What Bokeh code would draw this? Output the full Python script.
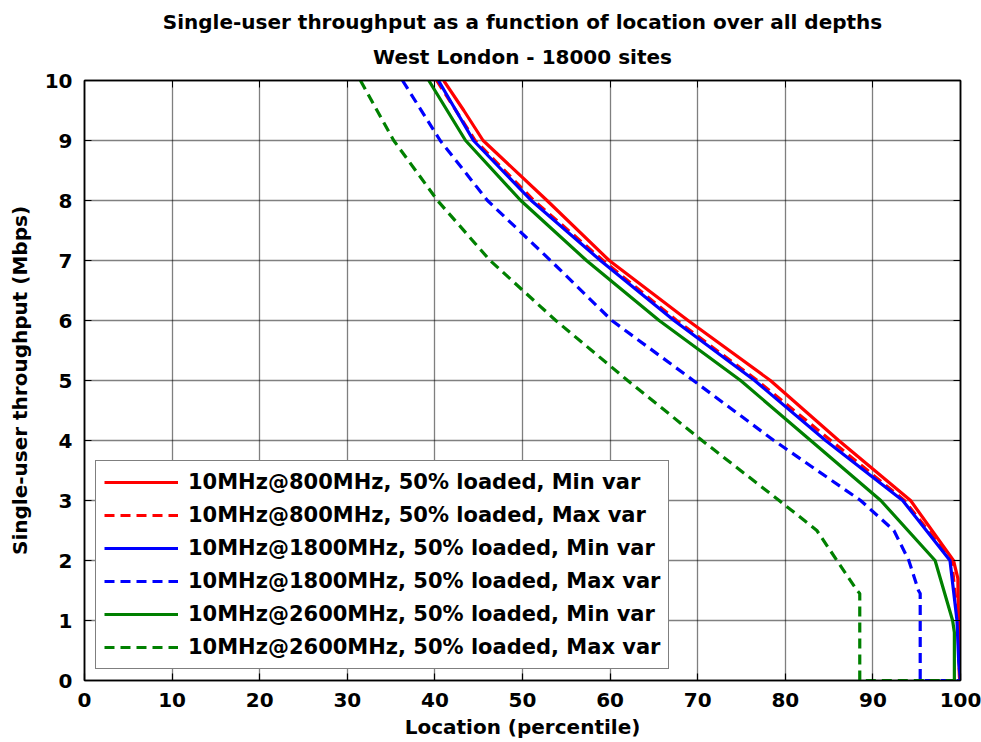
from bokeh.plotting import figure
from bokeh.models import Title, LinearAxis, Legend, LegendItem, FixedTicker, Range1d
from bokeh.embed import file_html
from bokeh.resources import INLINE

# ---- data ----
x_800_min = [41.0, 43.3, 45.5, 52.8, 59.9, 68.9, 78.3, 86.1, 94.3, 99.2, 99.7, 99.8, 99.9]
y_800_min = [10.0, 9.5, 9.0, 8.0, 7.0, 6.0, 5.0, 4.0, 3.0, 2.0, 1.7, 0.5, 0.0]

x_800_max = [40.2, 44.6, 51.3, 59.2, 67.6, 76.8, 85.2, 93.6, 99.0, 99.7, 99.9]
y_800_max = [10.0, 9.0, 8.0, 7.0, 6.0, 5.0, 4.0, 3.0, 2.0, 1.0, 0.0]

x_1800_min = [40.4, 44.4, 51.0, 58.9, 67.3, 76.5, 84.6, 93.4, 98.8, 99.6, 99.8, 100.0]
y_1800_min = [10.0, 9.0, 8.0, 7.0, 6.0, 5.0, 4.0, 3.0, 2.0, 1.0, 0.3, 0.0]

x_1800_max = [36.3, 40.6, 46.0, 53.2, 60.2, 69.5, 78.7, 88.6, 92.4, 94.1, 95.2, 95.4, 95.4, 100.0]
y_1800_max = [10.0, 9.0, 8.0, 7.0, 6.0, 5.0, 4.0, 3.0, 2.5, 2.0, 1.5, 1.45, 0.0, 0.0]

x_2600_min = [39.3, 43.5, 49.8, 57.3, 65.6, 74.9, 82.9, 90.9, 97.1, 99.1, 99.3, 99.3]
y_2600_min = [10.0, 9.0, 8.0, 7.0, 6.0, 5.0, 4.0, 3.0, 2.0, 1.0, 0.8, 0.0]

x_2600_max = [31.5, 35.3, 40.3, 46.3, 53.8, 62.0, 70.5, 79.3, 83.6, 85.9, 88.2, 88.5, 88.5, 100.0]
y_2600_max = [10.0, 9.0, 8.0, 7.0, 6.0, 5.0, 4.0, 3.0, 2.5, 2.0, 1.5, 1.45, 0.0, 0.0]

series_labels = [
    "10MHz@800MHz, 50% loaded, Min var",
    "10MHz@800MHz, 50% loaded, Max var",
    "10MHz@1800MHz, 50% loaded, Min var",
    "10MHz@1800MHz, 50% loaded, Max var",
    "10MHz@2600MHz, 50% loaded, Min var",
    "10MHz@2600MHz, 50% loaded, Max var",
]
x_ticks = [0, 10, 20, 30, 40, 50, 60, 70, 80, 90, 100]
y_ticks = [0, 1, 2, 3, 4, 5, 6, 7, 8, 9, 10]

title_1 = "Single-user throughput as a function of location over all depths"
title_2 = "West London - 18000 sites"

FONT = "DejaVu Sans"

p = figure(
    frame_width=876, frame_height=600,
    x_range=Range1d(0, 100), y_range=Range1d(0, 10),
    output_backend="svg", toolbar_location=None,
    min_border_left=84, min_border_right=21, min_border_top=80, min_border_bottom=62,
    background_fill_color="white", border_fill_color="white",
)
p.title = None

bottom_ax = p.below[0]
left_ax = p.left[0]

# box ticks on top and right (closest to the frame)
top_ax = LinearAxis(ticker=FixedTicker(ticks=x_ticks), major_label_text_font_size="0px",
                    major_label_standoff=0, major_tick_in=7, major_tick_out=0,
                    minor_tick_in=0, minor_tick_out=0, axis_line_width=1.5)
right_ax = LinearAxis(ticker=FixedTicker(ticks=y_ticks), major_label_text_font_size="0px",
                      major_label_standoff=0, major_tick_in=7, major_tick_out=0,
                      minor_tick_in=0, minor_tick_out=0, axis_line_width=1.5)
p.add_layout(top_ax, "above")
p.add_layout(right_ax, "right")

# titles (later added = farther from the plot)
t2 = Title(text=title_2, align="center", text_font=FONT, text_font_size="20px",
           text_font_style="bold", text_color="black", text_line_height=0.8, standoff=23)
t1 = Title(text=title_1, align="center", text_font=FONT, text_font_size="20px",
           text_font_style="bold", text_color="black", text_line_height=0.8, standoff=-4)
p.add_layout(t2, "above")
p.add_layout(t1, "above")

for ax in (bottom_ax, left_ax):
    ax.major_label_text_font = FONT
    ax.major_label_text_font_size = "20px"
    ax.major_label_text_font_style = "bold"
    ax.major_label_text_color = "black"
    ax.axis_label_text_font = FONT
    ax.axis_label_text_font_size = "20px"
    ax.axis_label_text_font_style = "bold"
    ax.axis_label_text_color = "black"
    ax.major_tick_in = 7
    ax.major_tick_out = 0
    ax.minor_tick_in = 0
    ax.minor_tick_out = 0
    ax.axis_line_color = "black"
    ax.axis_line_width = 1.5
    ax.major_tick_line_width = 1.2

bottom_ax.ticker = FixedTicker(ticks=x_ticks)
left_ax.ticker = FixedTicker(ticks=y_ticks)
bottom_ax.axis_label = "Location (percentile)"
left_ax.axis_label = "Single-user throughput (Mbps)"
bottom_ax.major_label_standoff = 12
left_ax.major_label_standoff = 12
bottom_ax.axis_label_standoff = 5
left_ax.axis_label_standoff = 10

p.outline_line_color = "black"
p.outline_line_width = 1.5

p.xgrid[0].ticker = FixedTicker(ticks=x_ticks)
p.ygrid[0].ticker = FixedTicker(ticks=y_ticks)
for g in (p.xgrid[0], p.ygrid[0]):
    g.grid_line_color = "black"
    g.grid_line_dash = "1 1"
    g.grid_line_width = 1.3
    g.grid_line_alpha = 1.0

RED, BLUE, GREEN = "#ff0000", "#0000ff", "#008000"
DASH = "10 6"
LW = 3.2

series = [
    (x_800_min, y_800_min, RED, "solid"),
    (x_800_max, y_800_max, RED, DASH),
    (x_1800_min, y_1800_min, BLUE, "solid"),
    (x_1800_max, y_1800_max, BLUE, DASH),
    (x_2600_min, y_2600_min, GREEN, "solid"),
    (x_2600_max, y_2600_max, GREEN, DASH),
]
renderers = []
for xs, ys, c, dash in series:
    r = p.line(xs, ys, line_color=c, line_width=LW, line_dash=dash)
    renderers.append(r)

items = [LegendItem(label=lab, renderers=[r]) for lab, r in zip(series_labels, renderers)]
legend = Legend(items=items, location="bottom_left",
                label_text_font=FONT, label_text_font_size="21px",
                label_text_font_style="bold", label_text_color="black",
                glyph_width=74, glyph_height=26, label_height=26, spacing=7,
                padding=8, margin=11, label_standoff=10,
                border_line_color="black", border_line_width=1.5,
                background_fill_color="white", background_fill_alpha=1.0)
p.add_layout(legend, "center")

open("out.html", "w").write(file_html(p, INLINE))
